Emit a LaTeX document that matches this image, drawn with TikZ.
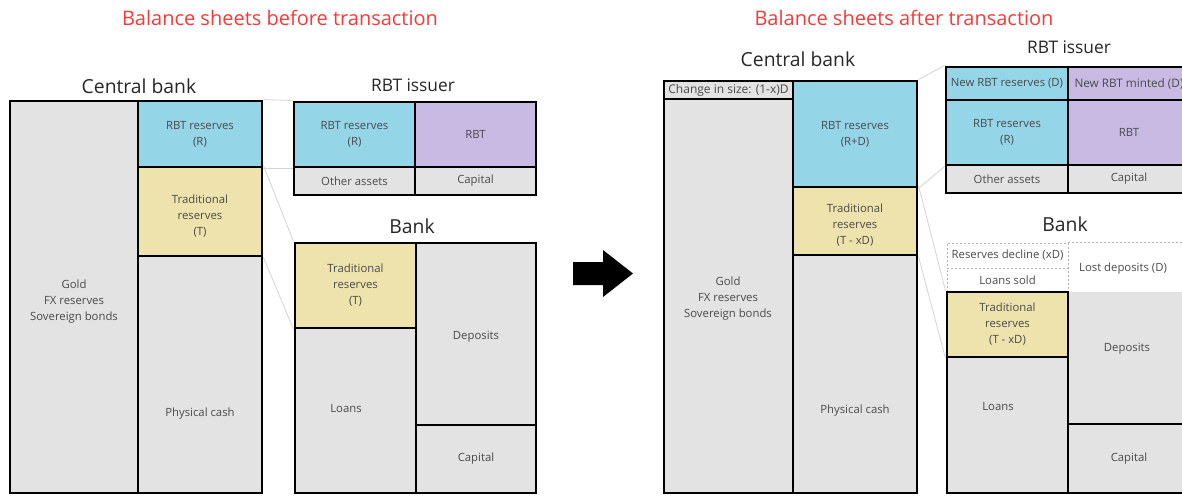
\documentclass[tikz,border=0pt]{standalone}
\usepackage{fontspec}
\setmainfont{Open Sans}
\usepackage{tikz}
\usepackage{xcolor}
\usetikzlibrary{positioning,fit}
\definecolor{ink}{HTML}{4A4A4A}
\definecolor{head}{HTML}{262626}
\definecolor{alert}{HTML}{F23B3B}
\definecolor{rbtblue}{HTML}{95D5E8}
\definecolor{tradyel}{HTML}{EEE3AC}
\definecolor{mintpur}{HTML}{C9BAE4}
\definecolor{plain}{HTML}{E3E3E3}

\begin{document}
\begin{tikzpicture}[x=0.75pt,y=-0.75pt,
    every node/.style={font=\fontsize{8.5}{12}\selectfont,text=ink}]
      \tikzstyle{cell} =[draw=black,line width=2.2pt,inner sep=0pt];
      \tikzstyle{txt}  =[align=center,inner sep=0pt];
      \tikzstyle{dots} =[draw=black!30,line width=0.6pt,dash pattern=on 1.5pt off 1.5pt];
      \tikzstyle{link} =[draw=black!17,line width=0.6pt];
      \tikzstyle{title}=[font=\fontsize{14.5}{16}\selectfont,text=head];
      \tikzstyle{side} =[font=\fontsize{13}{15}\selectfont,text=head];
      \tikzstyle{hdr}  =[font=\fontsize{15}{17}\selectfont,text=alert];
      \path[use as bounding box,clip] (0,0) rectangle (1182,496);

      % headings
      \node[hdr] (hbefore) at (280,18) {Balance sheets before transaction};
      \node[hdr] (hafter)  at (904,18) {Balance sheets after transaction};

      % ---- before: central bank
      \node[title] (tcb) at (139,86) {Central bank};
      \node[cell,fill=plain,fit={(10,101) (138,493)}] (cbgold) {};
      \node[cell,fill=rbtblue,fit={(138,101) (262,167)}] (cbrbt) {};
      \node[cell,fill=tradyel,fit={(138,167) (262,256)}] (cbtrad) {};
      \node[cell,fill=plain,fit={(138,256) (262,493)}] (cbcash) {};
      \node[txt] (cbgoldl) at (74,302) {Gold\\FX reserves\\Sovereign bonds};
      \node[txt] (cbrbtl)  at (cbrbt) {RBT reserves\\(R)};
      \node[txt] (cbtradl) at (200,216) {Traditional\\reserves\\(T)};
      \node[txt] (cbcashl) at (200,414) {Physical cash};

      % ---- before: RBT issuer
      \node[side] (tis) at (413,85) {RBT issuer};
      \node[cell,fill=rbtblue,fit={(294,102) (415,167)}] (isr) {};
      \node[cell,fill=mintpur,fit={(415,102) (536,167)}] (isrbt) {};
      \node[cell,fill=plain,fit={(294,167) (415,195)}] (isoth) {};
      \node[cell,fill=plain,fit={(415,167) (536,195)}] (iscap) {};
      \node[txt] (isrl)   at (isr)   {RBT reserves\\(R)};
      \node[txt] (isrbtl) at (isrbt) {RBT};
      \node[txt] (isothl) at (isoth) {Other assets};
      \node[txt] (iscapl) at (iscap) {Capital};

      % ---- before: bank
      \node[title] (tbk) at (412,226) {Bank};
      \node[cell,fill=tradyel,fit={(295,243) (416,328)}] (bktrad) {};
      \node[cell,fill=plain,fit={(295,328) (416,493)}] (bkloan) {};
      \node[cell,fill=plain,fit={(416,243) (536,425)}] (bkdep) {};
      \node[cell,fill=plain,fit={(416,425) (536,493)}] (bkcap) {};
      \node[txt] (bktradl) at (bktrad) {Traditional\\reserves\\(T)};
      \node[txt] (bkloanl) at (346,409) {Loans};
      \node[txt] (bkdepl)  at (476,337) {Deposits};
      \node[txt] (bkcapl)  at (bkcap)  {Capital};

      \draw[link] (cbrbt.north east) -- (isr.north west);
      \draw[link] (cbrbt.south east) -- (isr.south west);
      \draw[link] (cbtrad.north east) -- (bktrad.north west);
      \draw[link] (cbtrad.south east) -- (bktrad.south west);

      % transaction arrow
      \fill[black] (573,262) -- (603,262) -- (603,250) -- (633,273.5)
                   -- (603,297) -- (603,285) -- (573,285) -- cycle;

      % ---- after: central bank
      \node[title] (tcb2) at (798,59) {Central bank};
      \node[cell,fill=plain,fit={(664,99) (793,493)}] (cb2gold) {};
      \node[cell,fill=plain,fit={(664,81) (793,99)}] (cb2chg) {};
      \node[cell,fill=rbtblue,fit={(793,81) (917,187)}] (cb2rbt) {};
      \node[cell,fill=tradyel,fit={(793,187) (917,255)}] (cb2trad) {};
      \node[cell,fill=plain,fit={(793,255) (917,493)}] (cb2cash) {};
      \node[txt,font=\fontsize{9}{10}\selectfont] (cb2chgl) at (cb2chg) {Change in size: (1-x)D};
      \node[txt] (cb2goldl) at (728,299) {Gold\\FX reserves\\Sovereign bonds};
      \node[txt] (cb2rbtl)  at (cb2rbt)  {RBT reserves\\(R+D)};
      \node[txt] (cb2tradl) at (855,225) {Traditional\\reserves\\(T - xD)};
      \node[txt] (cb2cashl) at (855,411) {Physical cash};

      % ---- after: RBT issuer
      \node[side] (tis2) at (1069,47) {RBT issuer};
      \node[cell,fill=rbtblue,fit={(946,67) (1068,100)}] (is2newr) {};
      \node[cell,fill=mintpur,fit={(1068,67) (1190,100)}] (is2newm) {};
      \node[cell,fill=rbtblue,fit={(946,100) (1068,165)}] (is2r) {};
      \node[cell,fill=mintpur,fit={(1068,100) (1190,165)}] (is2rbt) {};
      \node[cell,fill=plain,fit={(946,165) (1068,193)}] (is2oth) {};
      \node[cell,fill=plain,fit={(1068,165) (1190,193)}] (is2cap) {};
      \node[txt,font=\fontsize{8.5}{10}\selectfont] (is2newrl) at (is2newr) {New RBT reserves (D)};
      \node[txt,font=\fontsize{8.8}{10}\selectfont] (is2newml) at (is2newm) {New RBT minted (D)};
      \node[txt] (is2rl)   at (is2r)   {RBT reserves\\(R)};
      \node[txt] (is2rbtl) at (is2rbt) {RBT};
      \node[txt] (is2othl) at (is2oth) {Other assets};
      \node[txt] (is2capl) at (is2cap) {Capital};

      % ---- after: bank, with what leaves it on top
      \node[title] (tbk2) at (1065,224) {Bank};
      \node[dots,inner sep=0pt,fit={(947,243) (1068,268)}] (bk2decl) {};
      \node[dots,inner sep=0pt,fit={(947,268) (1068,292)}] (bk2sold) {};
      \node[inner sep=0pt,fit={(1068,243) (1190,292)}] (bk2lost) {};
      \draw[dots] (bk2lost.north west) -- (bk2lost.north east);
      \node[txt] (bk2decll) at (bk2decl) {Reserves decline (xD)};
      \node[txt] (bk2soldl) at (bk2sold) {Loans sold};
      \node[txt] (bk2lostl) at (1123,269) {Lost deposits (D)};

      \node[fill=plain,inner sep=0pt,outer sep=0pt,fit={(1068,292) (1190,424)}] (bk2dep) {};
      \node[cell,fill=tradyel,fit={(947,292) (1068,357)}] (bk2trad) {};
      \node[cell,fill=plain,fit={(947,357) (1068,493)}] (bk2loan) {};
      \node[cell,fill=plain,fit={(1068,424) (1190,493)}] (bk2cap) {};
      \draw[line width=2.2pt] (bk2dep.north west) -- (bk2dep.south west);
      \node[txt] (bk2tradl) at (bk2trad) {Traditional\\reserves\\(T - xD)};
      \node[txt] (bk2loanl) at (998,407) {Loans};
      \node[txt] (bk2depl)  at (1127,349) {Deposits};
      \node[txt] (bk2capl)  at (bk2cap)  {Capital};

      \draw[link] (cb2rbt.north east) -- (is2newr.north west);
      \draw[link] (cb2rbt.south east) -- (is2r.south west);
      \draw[link] (cb2trad.north east) -- (bk2trad.north west);
      \draw[link] (cb2trad.south east) -- (bk2trad.south west);
    \end{tikzpicture}
\end{document}
